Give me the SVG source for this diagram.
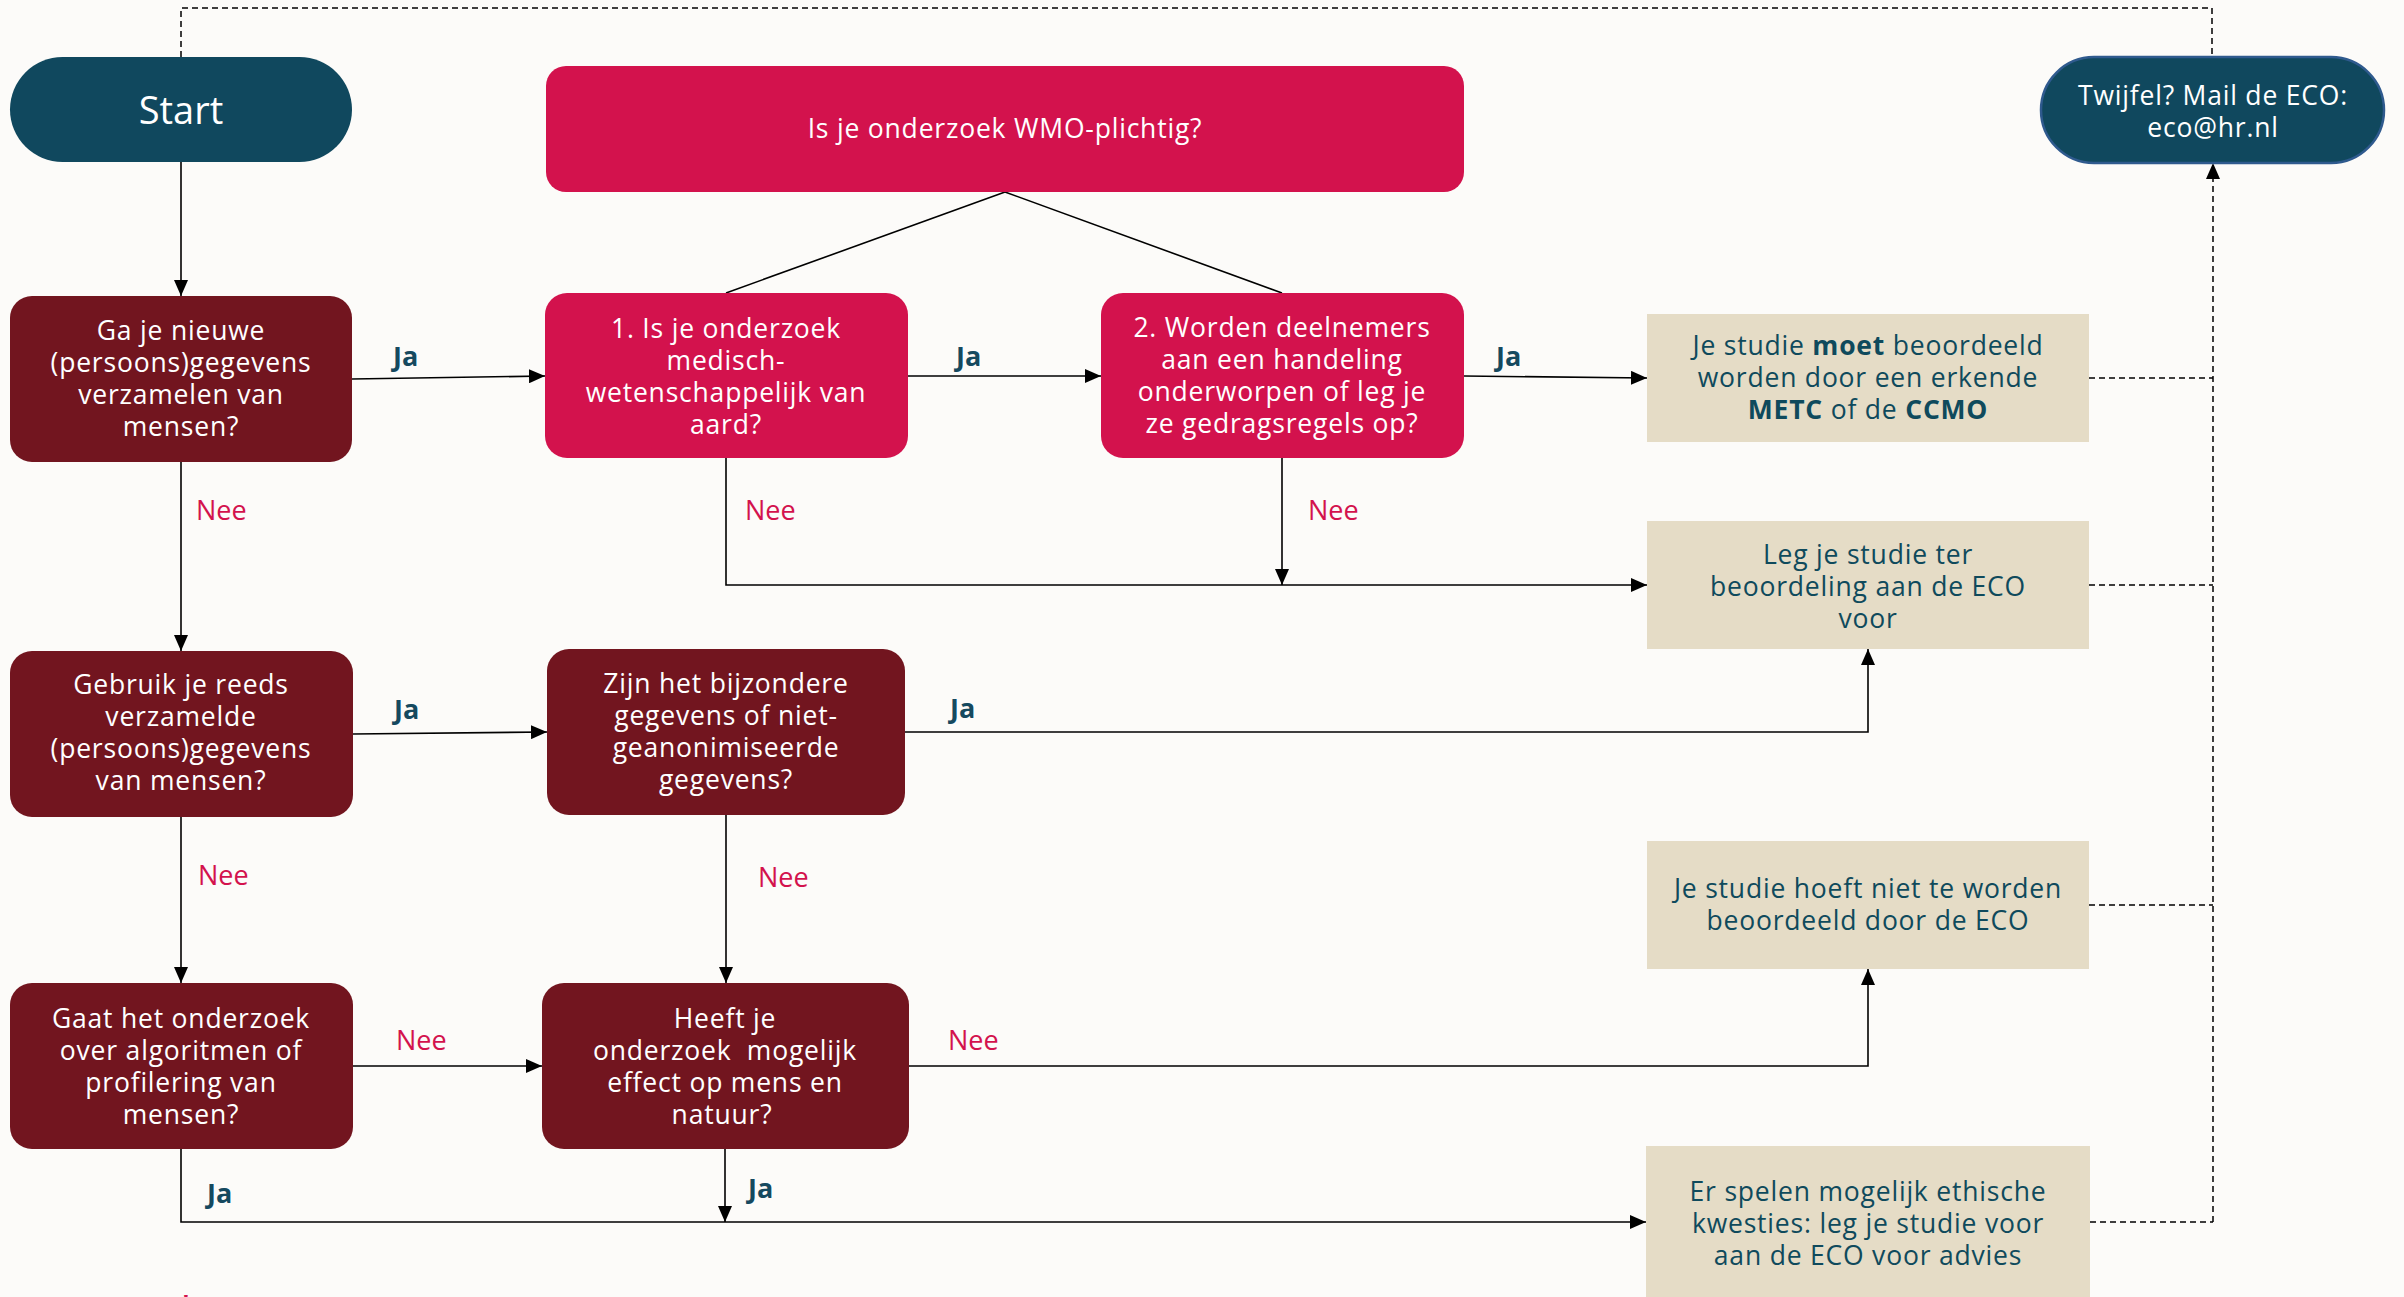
<svg xmlns="http://www.w3.org/2000/svg" width="2404" height="1297" viewBox="0 0 2404 1297">
<defs>
<marker id="ah" viewBox="0 0 16 14" refX="16" refY="7" markerWidth="16" markerHeight="14" markerUnits="userSpaceOnUse" orient="auto">
<path d="M0,0 L16,7 L0,14 z" fill="#000"/>
</marker>
<style>
text{font-family:"Open Sans","Noto Sans","Liberation Sans",sans-serif;text-anchor:middle;dominant-baseline:central}
.w{fill:#ffffff;font-size:26.5px;letter-spacing:0.8px}
.d{fill:#0f4a5c;font-size:26.5px;letter-spacing:0.8px}
.teal{fill:#10485e}
.maroon{fill:#72151f}
.crim{fill:#d3124d}
.beige{fill:#e5dcc6}
.ja{fill:#15495f;font-size:27px;font-weight:bold;text-anchor:start}
.nee{fill:#d3124d;font-size:27px;text-anchor:start}
.b{font-weight:bold}
.c{fill:none;stroke:#000;stroke-width:1.6}
.ca{fill:none;stroke:#000;stroke-width:1.6;marker-end:url(#ah)}
.dash{fill:none;stroke:#000;stroke-width:1.5;stroke-dasharray:6 4}
</style>
</defs>
<rect x="0" y="0" width="2404" height="1297" fill="#fcfbf9"/>

<g id="connectors">
<path class="ca" d="M181,162 L181,296"/>
<path class="ca" d="M352,379 L545,376"/>
<path class="c" d="M1005,192 L726,293"/>
<path class="c" d="M1005,192 L1282,293"/>
<path class="ca" d="M908,376 L1101,376"/>
<path class="ca" d="M1464,376 L1647,378"/>
<path class="ca" d="M181,462 L181,651"/>
<path class="ca" d="M726,458 L726,585 L1647,585"/>
<path class="ca" d="M1282,458 L1282,585"/>
<path class="ca" d="M353,734 L547,732"/>
<path class="ca" d="M905,732 L1868,732 L1868,649"/>
<path class="ca" d="M181,817 L181,983"/>
<path class="ca" d="M726,815 L726,983"/>
<path class="ca" d="M353,1066 L542,1066"/>
<path class="ca" d="M909,1066 L1868,1066 L1868,969"/>
<path class="ca" d="M181,1149 L181,1222 L1646,1222"/>
<path class="ca" d="M725,1149 L725,1222"/>
<path class="dash" d="M2089,378 L2213,378"/>
<path class="dash" d="M2089,585 L2213,585"/>
<path class="dash" d="M2089,905 L2213,905"/>
<path class="dash" d="M2090,1222 L2213,1222"/>
<path class="dash" d="M2213,1222 L2213,163" marker-end="url(#ah)"/>
<path class="dash" d="M181,57 L181,8 L2212,8 L2212,57"/>
<text class="ja" x="393" y="355">Ja</text>
<text class="ja" x="956" y="355">Ja</text>
<text class="ja" x="1496" y="355">Ja</text>
<text class="nee" x="196" y="509">Nee</text>
<text class="nee" x="745" y="509">Nee</text>
<text class="nee" x="1308" y="509">Nee</text>
<text class="ja" x="394" y="708">Ja</text>
<text class="ja" x="950" y="707">Ja</text>
<text class="nee" x="198" y="874">Nee</text>
<text class="nee" x="758" y="876">Nee</text>
<text class="nee" x="396" y="1039">Nee</text>
<text class="nee" x="948" y="1039">Nee</text>
<text class="ja" x="207" y="1192">Ja</text>
<text class="ja" x="748" y="1187">Ja</text>
</g>

<g id="start">
<rect class="teal" x="10" y="57" width="342" height="105" rx="52.5"/>
<text class="w" x="181" y="109" style="font-size:38px;letter-spacing:0">Start</text>
</g>

<g id="twijfel">
<rect class="teal" x="2041" y="57" width="343" height="106" rx="53" stroke="#2f5a8e" stroke-width="2.5"/>
<text class="w" x="2213" y="95">Twijfel? Mail de ECO:</text>
<text class="w" x="2213" y="127">eco@hr.nl</text>
</g>

<g id="wmo">
<rect class="crim" x="546" y="66" width="918" height="126" rx="20"/>
<text class="w" x="1005" y="128">Is je onderzoek WMO-plichtig?</text>
</g>

<g id="nieuwe">
<rect class="maroon" x="10" y="296" width="342" height="166" rx="22"/>
<text class="w" x="181" y="330">Ga je nieuwe</text>
<text class="w" x="181" y="362">(persoons)gegevens</text>
<text class="w" x="181" y="394">verzamelen van</text>
<text class="w" x="181" y="426">mensen?</text>
</g>

<g id="medisch">
<rect class="crim" x="545" y="293" width="363" height="165" rx="22"/>
<text class="w" x="726" y="328">1. Is je onderzoek</text>
<text class="w" x="726" y="360">medisch-</text>
<text class="w" x="726" y="392">wetenschappelijk van</text>
<text class="w" x="726" y="424">aard?</text>
</g>

<g id="handeling">
<rect class="crim" x="1101" y="293" width="363" height="165" rx="22"/>
<text class="w" x="1282" y="327">2. Worden deelnemers</text>
<text class="w" x="1282" y="359">aan een handeling</text>
<text class="w" x="1282" y="391">onderworpen of leg je</text>
<text class="w" x="1282" y="423">ze gedragsregels op?</text>
</g>

<g id="moet">
<rect class="beige" x="1647" y="314" width="442" height="128"/>
<text class="d" x="1868" y="345">Je studie <tspan class="b">moet</tspan> beoordeeld</text>
<text class="d" x="1868" y="377">worden door een erkende</text>
<text class="d" x="1868" y="409"><tspan class="b">METC</tspan> of de <tspan class="b">CCMO</tspan></text>
</g>

<g id="leg">
<rect class="beige" x="1647" y="521" width="442" height="128"/>
<text class="d" x="1868" y="554">Leg je studie ter</text>
<text class="d" x="1868" y="586">beoordeling aan de ECO</text>
<text class="d" x="1868" y="618">voor</text>
</g>

<g id="gebruik">
<rect class="maroon" x="10" y="651" width="343" height="166" rx="22"/>
<text class="w" x="181" y="684">Gebruik je reeds</text>
<text class="w" x="181" y="716">verzamelde</text>
<text class="w" x="181" y="748">(persoons)gegevens</text>
<text class="w" x="181" y="780">van mensen?</text>
</g>

<g id="bijzondere">
<rect class="maroon" x="547" y="649" width="358" height="166" rx="22"/>
<text class="w" x="726" y="683">Zijn het bijzondere</text>
<text class="w" x="726" y="715">gegevens of niet-</text>
<text class="w" x="726" y="747">geanonimiseerde</text>
<text class="w" x="726" y="779">gegevens?</text>
</g>

<g id="hoeft">
<rect class="beige" x="1647" y="841" width="442" height="128"/>
<text class="d" x="1868" y="888">Je studie hoeft niet te worden</text>
<text class="d" x="1868" y="920">beoordeeld door de ECO</text>
</g>

<g id="algoritmen">
<rect class="maroon" x="10" y="983" width="343" height="166" rx="22"/>
<text class="w" x="181" y="1018">Gaat het onderzoek</text>
<text class="w" x="181" y="1050">over algoritmen of</text>
<text class="w" x="181" y="1082">profilering van</text>
<text class="w" x="181" y="1114">mensen?</text>
</g>

<g id="effect">
<rect class="maroon" x="542" y="983" width="367" height="166" rx="22"/>
<text class="w" x="725" y="1018">Heeft je</text>
<text class="w" x="725" y="1050" xml:space="preserve">onderzoek  mogelijk</text>
<text class="w" x="725" y="1082">effect op mens en</text>
<text class="w" x="722" y="1114">natuur?</text>
</g>

<g id="ethisch">
<rect class="beige" x="1646" y="1146" width="444" height="160"/>
<text class="d" x="1868" y="1191">Er spelen mogelijk ethische</text>
<text class="d" x="1868" y="1223">kwesties: leg je studie voor</text>
<text class="d" x="1868" y="1255">aan de ECO voor advies</text>
</g>

<text x="186" y="1310" style="fill:#d3124d;font-size:40px">*</text>
</svg>
